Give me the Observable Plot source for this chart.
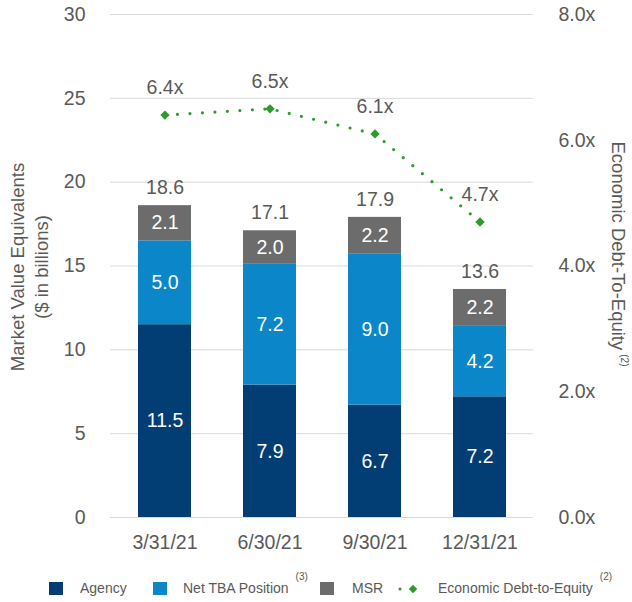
<!DOCTYPE html>
<html>
<head>
<meta charset="utf-8">
<script src="https://cdn.jsdelivr.net/npm/d3@7"></script>
<script src="https://cdn.jsdelivr.net/npm/@observablehq/plot@0.6"></script>
<style>
  html, body { margin: 0; padding: 0; background: #fff; }
  body { width: 632px; height: 602px; position: relative; overflow: hidden; font-family: "Liberation Sans", Arial, sans-serif; color: #595959; }
  #legend { position: absolute; left: 0; top: 565px; width: 632px; height: 37px; font-size: 14px; }
  #legend .sw { position: absolute; width: 14px; height: 13px; top: 17px; }
  #legend .lb { position: absolute; top: 15px; white-space: nowrap; }
  #legend sup { font-size: 10px; position: relative; top: -13px; vertical-align: baseline; margin-left: 7px; }
</style>
</head>
<body>
<div id="chart"></div>
<div id="legend"></div>
<script>
const dates = ["3/31/21", "6/30/21", "9/30/21", "12/31/21"];
const seriesNames = ["Agency", "Net TBA Position", "MSR"];
const agency = [11.5, 7.9, 6.7, 7.2];
const netTBA = [5.0, 7.2, 9.0, 4.2];
const msr = [2.1, 2.0, 2.2, 2.2];
const totals = [18.6, 17.1, 17.9, 13.6];
const debtToEquity = [6.4, 6.5, 6.1, 4.7];
const leftTicks = [0, 5, 10, 15, 20, 25, 30];
const rightTicks = [0, 2, 4, 6, 8];
const seriesColors = ["#023e74", "#0a86c9", "#6c6c6c"];
const lineColor = "#2e9a2e";

const leftMax = 30, rightMax = 8;
const k = leftMax / rightMax;

const rows = [];
dates.forEach((d, i) => {
  [agency, netTBA, msr].forEach((arr, j) => rows.push({date: d, series: seriesNames[j], value: arr[i]}));
});
const totalRows = dates.map((d, i) => ({date: d, total: totals[i]}));
const lineRows = dates.map((d, i) => ({date: d, r: debtToEquity[i] * k, label: debtToEquity[i].toFixed(1) + "x"}));

const FS = 19.5;
const chart = Plot.plot({
  width: 632,
  height: 565,
  marginLeft: 110,
  marginRight: 99,
  marginTop: 14,
  marginBottom: 48,
  style: {fontFamily: "Liberation Sans, Arial, sans-serif", fontSize: FS + "px", color: "#595959", background: "#fff"},
  x: {domain: dates, paddingInner: 0.5, paddingOuter: 0.25, label: null},
  y: {domain: [0, leftMax], label: null},
  color: {domain: seriesNames, range: seriesColors},
  marks: [
    Plot.gridY(leftTicks, {stroke: "#d9d9d9", strokeOpacity: 1, strokeWidth: 1}),
    Plot.axisY(leftTicks, {anchor: "left", tickSize: 0, tickPadding: 25, fontSize: FS, fill: "#595959", label: null}),
    Plot.axisY(rightTicks.map(v => v * k), {anchor: "right", tickSize: 0, tickPadding: 25, fontSize: FS, fill: "#595959", label: null, tickFormat: v => (v / k).toFixed(1) + "x"}),
    Plot.axisX({tickSize: 0, tickPadding: 18, fontSize: FS, fill: "#595959", label: null}),
    Plot.barY(rows, {x: "date", y: "value", fill: "series", order: seriesNames}),
    Plot.text(rows, Plot.stackY({x: "date", y: "value", z: "series", order: seriesNames, text: d => d.value.toFixed(1), fill: "#ffffff", fontSize: FS})),
    Plot.text(totalRows, {x: "date", y: "total", text: d => d.total.toFixed(1), dy: -18, fill: "#595959", fontSize: FS}),
    Plot.line(lineRows, {x: "date", y: "r", stroke: lineColor, strokeWidth: 3.2, strokeDasharray: "0 12.5", strokeLinecap: "round"}),
    Plot.dot(lineRows, {x: "date", y: "r", symbol: "diamond2", fill: lineColor, r: 4.2}),
    Plot.text(lineRows, {x: "date", y: "r", text: "label", dy: -27, fill: "#595959", fontSize: FS})
  ]
});

document.getElementById("chart").appendChild(chart);

// Axis titles
const svg = d3.select(chart);
const lt = svg.append("g").attr("fill", "#595959").attr("font-size", 18.5).attr("text-anchor", "middle");
lt.append("text").attr("transform", "translate(18,267) rotate(-90)").attr("dy", "0.35em").text("Market Value Equivalents");
lt.append("text").attr("transform", "translate(42,267) rotate(-90)").attr("dy", "0.35em").text("($ in billions)");
const rt = svg.append("text").attr("fill", "#595959").attr("font-size", 18.5).attr("text-anchor", "middle")
  .attr("transform", "translate(618,254) rotate(90)").attr("dy", "0.35em");
rt.append("tspan").text("Economic Debt-To-Equity");
rt.append("tspan").attr("font-size", 10).attr("dx", 4).attr("dy", "-0.9em").text("(2)");

// Legend
const legend = d3.select("#legend");
const items = [
  {name: "Agency", color: seriesColors[0], sw: 49, lb: 80},
  {name: "Net TBA Position", color: seriesColors[1], sw: 153, lb: 183, sup: "(3)"},
  {name: "MSR", color: seriesColors[2], sw: 320, lb: 352}
];
items.forEach(it => {
  legend.append("div").attr("class", "sw").style("left", it.sw + "px").style("background", it.color);
  const l = legend.append("div").attr("class", "lb").style("left", it.lb + "px").text(it.name);
  if (it.sup) l.append("sup").text(it.sup);
});
const ls = legend.append("svg").attr("width", 40).attr("height", 37).style("position", "absolute").style("left", "396px").style("top", "0px");
ls.append("line").attr("x1", 4).attr("x2", 30).attr("y1", 24).attr("y2", 24).attr("stroke", lineColor).attr("stroke-width", 3).attr("stroke-linecap", "round").attr("stroke-dasharray", "0 13");
ls.append("path").attr("d", d3.symbol(d3.symbolSquare, 36)()).attr("transform", "translate(17,24) rotate(45)").attr("fill", lineColor);
const el = legend.append("div").attr("class", "lb").style("left", "438px").text("Economic Debt-to-Equity");
el.append("sup").text("(2)");
</script>
</body>
</html>
